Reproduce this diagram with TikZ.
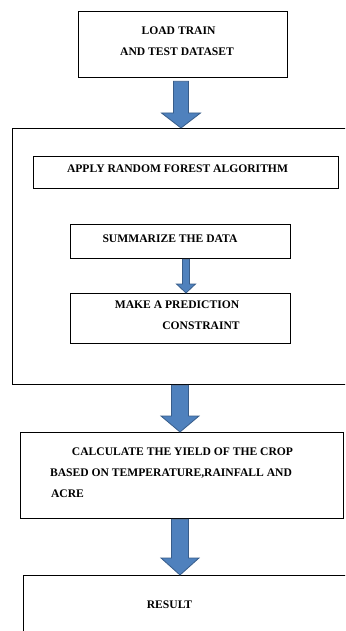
\documentclass[tikz,border=0pt]{standalone}
\usepackage{fontspec}
\setmainfont{Liberation Serif}
\usetikzlibrary{calc}
\definecolor{arrfill}{HTML}{4F81BD}
\definecolor{arredge}{HTML}{385D8A}
\tikzset{
 box/.style={draw=black, line width=1.3pt, inner sep=0pt, anchor=north west},
 lbl/.style={font=\fontsize{11.6}{13}\selectfont\bfseries, inner sep=0pt, text height=7.7pt, text depth=0pt},
 barrow/.style={fill=arrfill, draw=arredge, line width=0.8pt, line join=miter},
}
\newcommand\blockarrow[7]{%
 \path[barrow] let \p1=(#1.south), \p2=(#2.north) in
 (#3pt-#4pt,\y1-#7pt) -- (#3pt+#4pt,\y1-#7pt) -- (#3pt+#4pt,\y2+#6pt) -- (#3pt+#5pt,\y2+#6pt)
 -- (#3pt,\y2) -- (#3pt-#5pt,\y2+#6pt) -- (#3pt-#4pt,\y2+#6pt) -- cycle;}
\begin{document}
\begin{tikzpicture}[x=1pt,y=1pt]
\useasboundingbox (0,0) rectangle (345,-631);
\clip (0,0) rectangle (345,-631);
\fill[white] (0,0) rectangle (345,-631);
% boxes
\node[box, minimum width=209pt, minimum height=66pt] (load) at (78,-11) {};
\node[box, minimum width=345pt, minimum height=256pt] (cont) at (12,-128) {};
\node[box, minimum width=305pt, minimum height=32pt] (apply) at (33,-156) {};
\node[box, minimum width=220pt, minimum height=34pt] (summ) at (70,-224) {};
\node[box, minimum width=220pt, minimum height=50pt] (make) at (70,-293) {};
\node[box, minimum width=323pt, minimum height=86pt] (calc) at (20,-432) {};
\node[box, minimum width=340pt, minimum height=70pt] (res) at (23,-575) {};
% texts
\node[lbl] (t1) at (178.5,-31) {LOAD TRAIN};
\node[lbl] (t2) at (177,-52) {AND TEST DATASET};
\node[lbl] (t3) at (177.5,-169) {APPLY RANDOM FOREST ALGORITHM};
\node[lbl] (t4) at (170,-239) {SUMMARIZE THE DATA};
\node[lbl] (t5) at (177,-305) {MAKE A PREDICTION};
\node[lbl] (t6) at (201,-326) {CONSTRAINT};
\node[lbl] (t7) at (182.5,-452) {CALCULATE THE YIELD OF THE CROP};
\node[lbl] (t8) at (171,-473) {BASED ON TEMPERATURE,RAINFALL AND};
\node[lbl] (t9) at (67.5,-494) {ACRE};
\node[lbl] (t10) at (169.5,-605) {RESULT};
% arrows
\blockarrow{load}{cont}{181}{7.5}{19.5}{15}{3}
\blockarrow{summ}{make}{186}{3.5}{9.5}{9}{0}
\blockarrow{cont}{calc}{180}{8.5}{19}{16}{0}
\blockarrow{calc}{res}{180}{8.5}{19}{17}{0}
\end{tikzpicture}
\end{document}
